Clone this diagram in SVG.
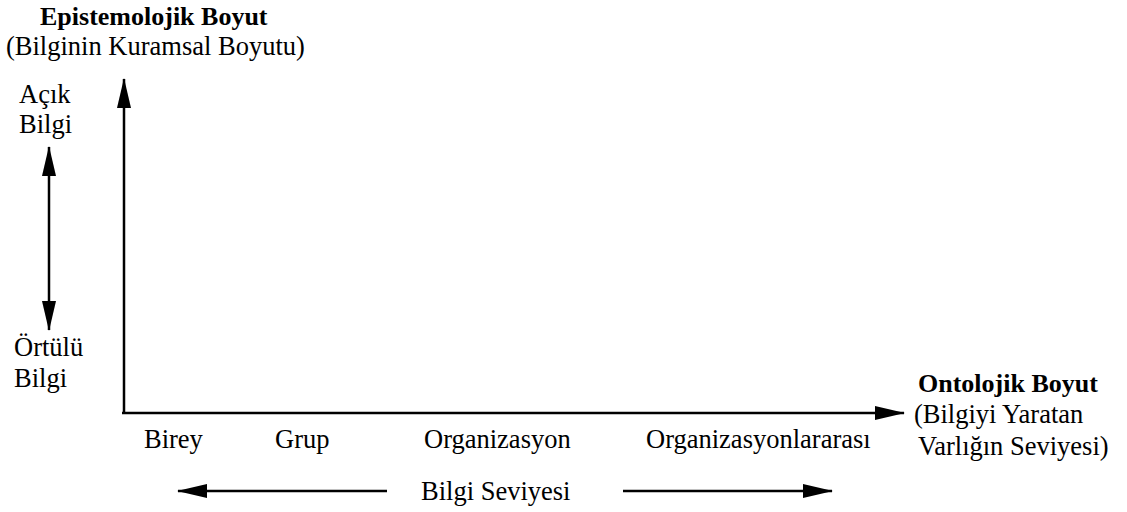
<svg xmlns="http://www.w3.org/2000/svg" width="1127" height="512" viewBox="0 0 1127 512">
  <style>
    text { font-family: 'Liberation Serif', 'Times New Roman', Times, serif; font-size: 26.5px; fill: #000; }
    .b { font-weight: bold; font-size: 26px; }
    .ax { stroke: #000; stroke-width: 2.5; fill: none; }
  </style>
  <defs>
    <marker id="head" viewBox="0 0 30 14" refX="29" refY="7" markerWidth="30" markerHeight="14" markerUnits="userSpaceOnUse" orient="auto-start-reverse">
      <path d="M0,0 L30,7 L0,14 Z" fill="#000"/>
    </marker>
  </defs>

  <g id="epistemolojik">
    <text class="b" x="40" y="25">Epistemolojik Boyut</text>
    <text x="6" y="55">(Bilginin Kuramsal Boyutu)</text>
  </g>
  <g id="acik-bilgi">
    <text x="19" y="103">Açık</text>
    <text x="19" y="133">Bilgi</text>
  </g>
  <g id="ortulu-bilgi">
    <text x="14" y="356">Örtülü</text>
    <text x="14" y="387">Bilgi</text>
  </g>
  <g id="ontolojik">
    <text class="b" x="918" y="392">Ontolojik Boyut</text>
    <text x="914" y="423">(Bilgiyi Yaratan</text>
    <text x="918" y="455">Varlığın Seviyesi)</text>
  </g>
  <g id="seviyeler">
    <text x="144" y="448">Birey</text>
    <text x="275" y="448">Grup</text>
    <text x="424" y="448">Organizasyon</text>
    <text x="646" y="448">Organizasyonlararası</text>
  </g>
  <g id="bilgi-seviyesi">
    <text x="421" y="500">Bilgi Seviyesi</text>
  </g>

  <g id="connectors">
    <!-- axes -->
    <path class="ax" d="M124,413 L124,79" marker-end="url(#head)"/>
    <path class="ax" d="M122,413 L904,413" marker-end="url(#head)"/>
    <!-- explicit/tacit double arrow -->
    <path class="ax" d="M49,147 L49,330" marker-start="url(#head)" marker-end="url(#head)"/>
    <!-- knowledge level arrows -->
    <path class="ax" d="M387,491 L178,491" marker-end="url(#head)"/>
    <path class="ax" d="M623,491 L832,491" marker-end="url(#head)"/>
  </g>
</svg>
